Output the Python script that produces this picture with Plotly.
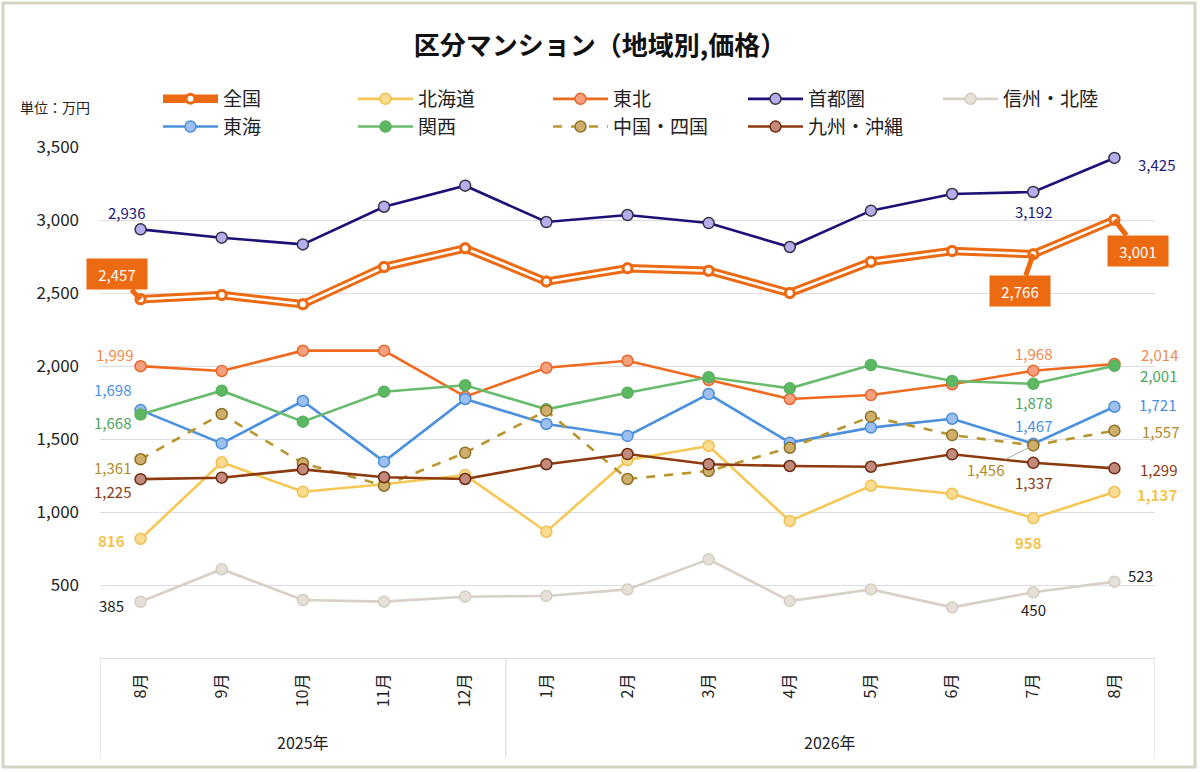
import plotly.graph_objects as go

# 月ラベル（2025年8月〜2026年8月）
months = ["8月", "9月", "10月", "11月", "12月", "1月", "2月", "3月",
          "4月", "5月", "6月", "7月", "8月"]
years = ["2025年", "2026年"]
year_len = [5, 8]

# 地域別価格（万円）
zenkoku = [2457, 2486, 2423, 2678, 2806, 2578, 2669, 2653, 2500, 2714, 2788, 2766, 3001]
hokkaido = [816, 1340, 1139, 1190, 1253, 865, 1356, 1452, 938, 1180, 1125, 958, 1137]
tohoku = [1999, 1966, 2105, 2105, 1790, 1988, 2036, 1904, 1774, 1801, 1875, 1968, 2014]
shutoken = [2936, 2879, 2833, 3091, 3235, 2986, 3034, 2979, 2815, 3064, 3178, 3192, 3425]
shinshu = [385, 608, 397, 386, 420, 425, 470, 676, 390, 470, 347, 450, 523]
tokai = [1698, 1470, 1760, 1345, 1774, 1603, 1521, 1808, 1475, 1578, 1639, 1467, 1721]
kansai = [1668, 1831, 1619, 1824, 1868, 1703, 1817, 1923, 1847, 2007, 1897, 1878, 2001]
chugoku = [1361, 1671, 1334, 1180, 1406, 1694, 1226, 1281, 1440, 1653, 1527, 1456, 1557]
kyushu = [1225, 1235, 1292, 1238, 1226, 1327, 1397, 1327, 1315, 1310, 1395, 1337, 1299]

label_idx = [0, 11, 12]  # ラベルを付ける月

FONT = "Noto Sans CJK JP"
ORANGE = "#EC6A12"
xs = list(range(len(months)))

fig = go.Figure()

# 全国（三重線）
fig.add_trace(go.Scatter(
    x=xs, y=zenkoku, name="全国", mode="lines+markers",
    line=dict(color=ORANGE, width=8.5),
    marker=dict(size=9, color="white", line=dict(color=ORANGE, width=3)),
    legendgroup="zen"))
fig.add_trace(go.Scatter(
    x=xs, y=zenkoku, mode="lines+markers", showlegend=False, hoverinfo="skip",
    line=dict(color="white", width=2.5),
    marker=dict(size=9, color="white", line=dict(color=ORANGE, width=3)),
    legendgroup="zen"))

series = [
    ("北海道", hokkaido, "#F5C856", "#F9DB92", "#F0C050", "solid"),
    ("東北", tohoku, "#EE6A1E", "#F7A07E", "#E8652A", "solid"),
    ("首都圏", shutoken, "#1B1177", "#B4AEEE", "#333344", "solid"),
    ("信州・北陸", shinshu, "#D8D0C6", "#E6E1D8", "#D4CCC0", "solid"),
    ("東海", tokai, "#4A90DD", "#9DC0F3", "#4A8DDA", "solid"),
    ("関西", kansai, "#68BB6C", "#5DB862", "#5AB05F", "solid"),
    ("中国・四国", chugoku, "#B8952E", "#CFAE6C", "#8E7224", "dash"),
    ("九州・沖縄", kyushu, "#8C3A0E", "#C28A7C", "#6E2B10", "solid"),
]
for name, vals, lc, mc, mlc, dash in series:
    fig.add_trace(go.Scatter(
        x=xs, y=vals, name=name, mode="lines+markers",
        line=dict(color=lc, width=2.6, dash=dash),
        marker=dict(size=11, color=mc, line=dict(color=mlc, width=1.5))))

# データラベル（xshift, yshift）
label_style = {
    "首都圏": (shutoken, "#1F1A7A", False, [(-14, 17), (0, -20), (42, -7)]),
    "東北": (tohoku, "#F28A4A", False, [(-26, 12), (0, 17), (45, 9)]),
    "東海": (tokai, "#4A90E2", False, [(-28, 21), (0, 18), (43, 2)]),
    "関西": (kansai, "#4CA55A", False, [(-28, -8), (0, -19), (44, -10)]),
    "中国・四国": (chugoku, "#B08A2A", False, [(-28, -8), None, (46, -1)]),
    "九州・沖縄": (kyushu, "#8B3A12", False, [(-28, -12), (0, -20), (44, -1)]),
    "北海道": (hokkaido, "#F2C44E", True, [(-29, -2), (-5, -24), (43, -2)]),
    "信州・北陸": (shinshu, "#222222", False, [(-29, -4), (0, -17), (26, 6)]),
}
for name, (vals, col, bold, offs) in label_style.items():
    for i, off in zip(label_idx, offs):
        if off is None:
            continue
        txt = f"{vals[i]:,}"
        if bold:
            txt = f"<b>{txt}</b>"
        fig.add_annotation(x=i, y=vals[i], text=txt, showarrow=False,
                           xshift=off[0], yshift=off[1],
                           font=dict(family=FONT, size=15, color=col))

# 中国・四国 7月（引き出し線）
fig.add_annotation(x=11, y=chugoku[11], text=f"{chugoku[11]:,}", showarrow=True,
                   ax=-48, ay=24, arrowhead=0, arrowwidth=1, arrowcolor="#AAAAAA",
                   standoff=4, font=dict(family=FONT, size=15, color="#B08A2A"))

# 全国ラベル（吹き出し）
for i, (ax, ay) in zip(label_idx, [(-24, -25), (-13, 37), (24, 31)]):
    fig.add_annotation(x=i, y=zenkoku[i], text=f"{zenkoku[i]:,}", showarrow=True,
                       ax=ax, ay=ay, arrowhead=0, arrowwidth=5, arrowcolor=ORANGE,
                       standoff=0, bgcolor=ORANGE, borderpad=5, width=50, height=20,
                       font=dict(family=FONT, size=15, color="white"))

# 年ラベルと区切り線
start = 0
for yr, n in zip(years, year_len):
    fig.add_annotation(x=start + (n - 1) / 2, y=(658 - 742) / 511, xref="x", yref="paper",
                       yanchor="middle", text=yr, showarrow=False,
                       font=dict(family=FONT, size=16, color="#222222"))
    fig.add_shape(type="line", xref="x", yref="paper", x0=start - 0.5, x1=start - 0.5,
                  y0=0, y1=-0.195, line=dict(color="#DCDCE2", width=1.2))
    start += n
fig.add_shape(type="line", xref="x", yref="paper", x0=start - 0.5, x1=start - 0.5,
              y0=0, y1=-0.195, line=dict(color="#DCDCE2", width=1.2))

# 外枠
fig.add_shape(type="rect", xref="paper", yref="paper",
              x0=(3 - 100) / 1055, x1=(1195 - 100) / 1055,
              y0=(658 - 767) / 511, y1=(658 - 3) / 511,
              line=dict(color="#D6D3C2", width=3), layer="below")

fig.add_annotation(x=(18 - 100) / 1055, y=(658 - 107) / 511, xref="paper", yref="paper",
                   xanchor="left", yanchor="middle", text="単位：万円", showarrow=False,
                   font=dict(family=FONT, size=14, color="#222222"))

fig.update_layout(
    width=1200, height=772,
    margin=dict(l=100, r=45, t=147, b=114, autoexpand=False),
    paper_bgcolor="white", plot_bgcolor="white",
    font=dict(family=FONT, color="#222222"),
    title=dict(text="<b>区分マンション（地域別,価格）</b>", x=0.5, xanchor="center",
               y=1 - 46 / 772, yanchor="middle",
               font=dict(family=FONT, size=26, color="#111111")),
    legend=dict(orientation="h", x=(158 - 100) / 1055, xanchor="left",
                y=(658 - 80) / 511, yanchor="top", entrywidth=125, itemwidth=55,
                font=dict(family=FONT, size=19, color="#222222"),
                bgcolor="rgba(0,0,0,0)", tracegroupgap=0),
    showlegend=True,
)
fig.update_xaxes(range=[-0.5, len(months) - 0.5], tickvals=xs, ticktext=months,
                 tickangle=-90, showgrid=False, showline=True, linecolor="#DCDCE2",
                 linewidth=1.2, ticks="", zeroline=False, automargin=False,
                 ticklabelstandoff=8,
                 tickfont=dict(family=FONT, size=16, color="#222222"))
fig.update_yaxes(range=[0, 3500], tickvals=[500, 1000, 1500, 2000, 2500, 3000, 3500],
                 tickformat=",d", showgrid=True, gridcolor="#DEDDE6", gridwidth=1,
                 zeroline=False, ticks="", ticklabelstandoff=20, automargin=False,
                 tickfont=dict(family=FONT, size=17, color="#222222"))

fig.write_html("out.html", config={"displayModeBar": False},
               post_script="document.body.style.margin='0';")
